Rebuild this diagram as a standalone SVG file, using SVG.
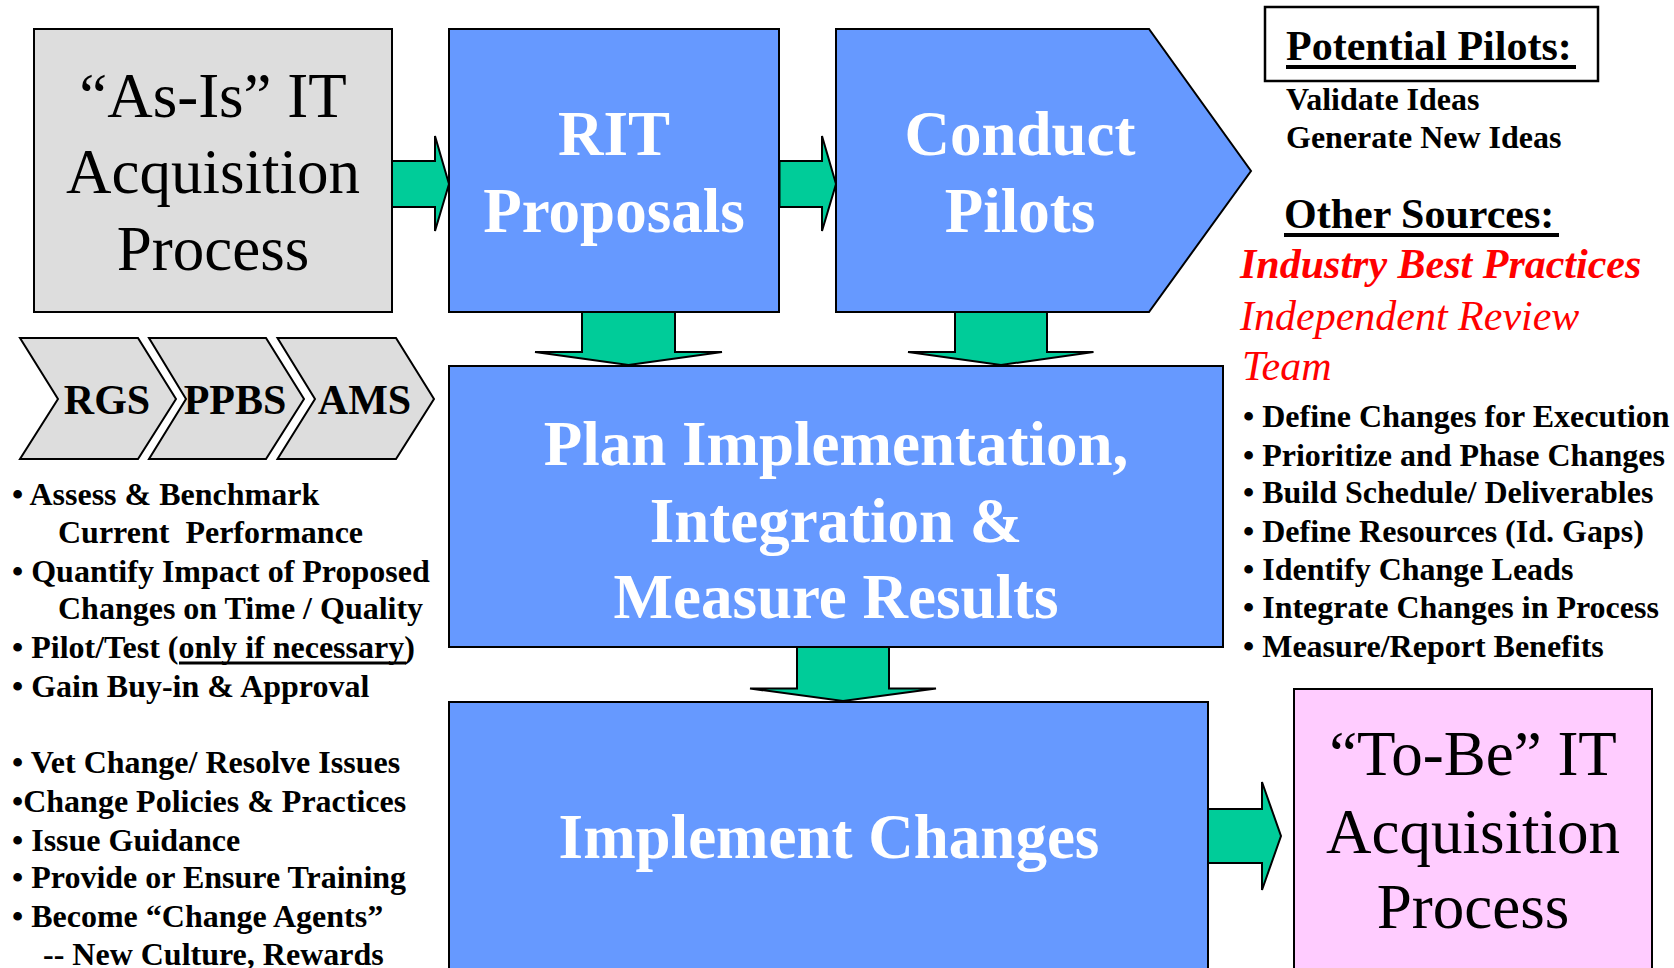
<svg xmlns="http://www.w3.org/2000/svg" width="1674" height="968" viewBox="0 0 1674 968">
<style>
text{font-family:"Liberation Serif","Times New Roman",serif;}
.box{stroke:#000;stroke-width:2;}
.blue{fill:#6699FF;}
.gray{fill:#DDDDDD;}
.pink{fill:#FFCCFF;}
.arr{fill:#00CC99;stroke:#000;stroke-width:2;stroke-linejoin:miter;}
.big{font-size:63px;text-anchor:middle;}
.wt{fill:#fff;font-weight:bold;}
.bk{fill:#000;}
.b32{font-size:32px;font-weight:bold;fill:#000;}
.b42{font-size:42px;font-weight:bold;fill:#000;}
.red{fill:#FF0000;font-size:42px;font-style:italic;}
.chev{font-size:42px;font-weight:bold;text-anchor:middle;fill:#000;}
.ul{stroke:#000;}
</style>
<rect width="1674" height="968" fill="#fff"/>
<g id="connectors">
<polygon class="arr" points="392,161 435,161 435,136 449,184 435,231 435,207 392,207"/>
<polygon class="arr" points="779.5,161 822,161 822,136 836,184 822,231 822,207 779.5,207"/>
<polygon class="arr" points="1208,809 1262,809 1262,782 1281,836 1262,890 1262,863 1208,863"/>
<polygon class="arr" points="582,312 675,312 675,352 722,352 628.5,365 535,352 582,352"/>
<polygon class="arr" points="955,312 1047,312 1047,352 1093.5,352 1001,365 908,352 955,352"/>
<polygon class="arr" points="797,647 889,647 889,688.5 936,688.5 843,701 750,688.5 797,688.5"/>
</g>
<g id="as-is">
<rect class="box gray" x="34" y="29" width="358" height="283"/>
<text class="big bk" x="213" y="117">“As-Is” IT</text>
<text class="big bk" x="213" y="193">Acquisition</text>
<text class="big bk" x="213" y="270">Process</text>
</g>
<g id="rit">
<rect class="box blue" x="449" y="29" width="330" height="283"/>
<text class="big wt" x="614" y="155">RIT</text>
<text class="big wt" x="614" y="232">Proposals</text>
</g>
<g id="conduct">
<polygon class="box blue" points="836,29 1149,29 1251,171 1149,312 836,312"/>
<text class="big wt" x="1020" y="155">Conduct</text>
<text class="big wt" x="1020" y="232">Pilots</text>
</g>
<g id="plan">
<rect class="box blue" x="449" y="366" width="774" height="281"/>
<text class="big wt" x="836" y="465">Plan Implementation,</text>
<text class="big wt" x="836" y="542">Integration &amp;</text>
<text class="big wt" x="836" y="618">Measure Results</text>
</g>
<g id="implement">
<rect class="box blue" x="449" y="702" width="759" height="280"/>
<text class="big wt" x="829" y="858">Implement Changes</text>
</g>
<g id="to-be">
<rect class="box pink" x="1294" y="689" width="358" height="290"/>
<text class="big bk" x="1473" y="775">“To-Be” IT</text>
<text class="big bk" x="1473" y="853">Acquisition</text>
<text class="big bk" x="1473" y="928">Process</text>
</g>
<g id="chevrons">
<polygon class="box gray" points="20,338 138,338 176,399 138,459 20,459 58,399"/>
<polygon class="box gray" points="149,338 266,338 304,399 266,459 149,459 186,399"/>
<polygon class="box gray" points="277.5,338 396,338 434,399 396,459 277.5,459 315,399"/>
<text class="chev" x="107" y="414">RGS</text>
<text class="chev" x="235" y="414">PPBS</text>
<text class="chev" x="364.5" y="414">AMS</text>
</g>
<g id="potential-pilots">
<rect x="1265" y="7" width="333" height="74" fill="#fff" stroke="#000" stroke-width="2.5"/>
<text class="b42" x="1286" y="60">Potential Pilots:</text>
<line class="ul" x1="1286" y1="67" x2="1576" y2="67" stroke-width="4"/>
<text class="b32" x="1286" y="110">Validate Ideas</text>
<text class="b32" x="1286" y="148">Generate New Ideas</text>
</g>
<g id="other-sources">
<text class="b42" x="1284" y="228">Other Sources:</text>
<line class="ul" x1="1284" y1="235" x2="1559" y2="235" stroke-width="4"/>
<text class="red" x="1240" y="278" font-weight="bold">Industry Best Practices</text>
<text class="red" x="1240" y="330">Independent Review</text>
<text class="red" x="1242" y="380">Team</text>
</g>
<g id="plan-bullets">
<text class="b32" x="1243" y="427">• Define Changes for Execution</text>
<text class="b32" x="1243" y="465.5">• Prioritize and Phase Changes</text>
<text class="b32" x="1243" y="503">• Build Schedule/ Deliverables</text>
<text class="b32" x="1243" y="542">• Define Resources (Id. Gaps)</text>
<text class="b32" x="1243" y="580">• Identify Change Leads</text>
<text class="b32" x="1243" y="618">• Integrate Changes in Process</text>
<text class="b32" x="1243" y="657">• Measure/Report Benefits</text>
</g>
<g id="proposal-bullets">
<text class="b32" x="12" y="505">• Assess &amp; Benchmark</text>
<text class="b32" x="58" y="543" style="white-space:pre">Current  Performance</text>
<text class="b32" x="12" y="582">• Quantify Impact of Proposed</text>
<text class="b32" x="58" y="619">Changes on Time / Quality</text>
<text class="b32" x="12" y="658">• Pilot/Test (only if necessary)</text>
<line class="ul" x1="179" y1="663" x2="406" y2="663" stroke-width="3"/>
<text class="b32" x="12" y="697">• Gain Buy-in &amp; Approval</text>
</g>
<g id="implement-bullets">
<text class="b32" x="12" y="773">• Vet Change/ Resolve Issues</text>
<text class="b32" x="12" y="812">•Change Policies &amp; Practices</text>
<text class="b32" x="12" y="851">• Issue Guidance</text>
<text class="b32" x="12" y="888">• Provide or Ensure Training</text>
<text class="b32" x="12" y="927">• Become “Change Agents”</text>
<text class="b32" x="43" y="965">-- New Culture, Rewards</text>
</g>
</svg>
